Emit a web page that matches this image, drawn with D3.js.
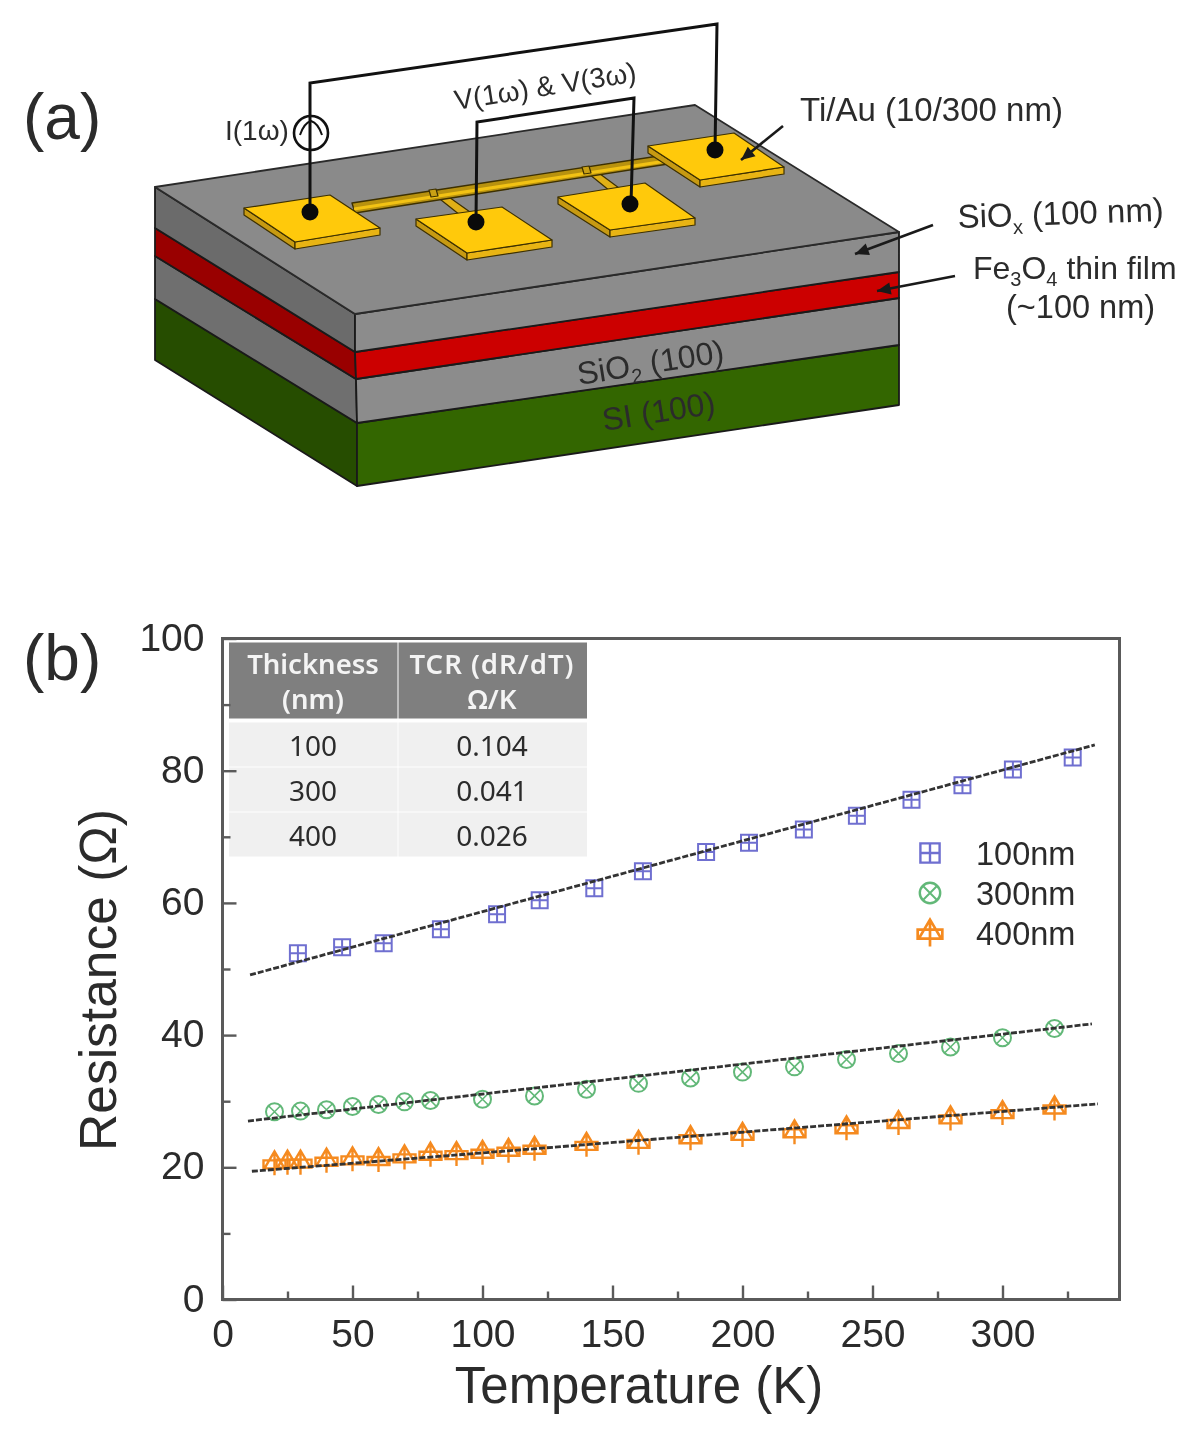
<!DOCTYPE html>
<html>
<head>
<meta charset="utf-8">
<script src="https://cdn.jsdelivr.net/npm/d3@7"></script>
<style>
  html, body { margin: 0; padding: 0; background: #fff; }
  svg { display: block; filter: blur(0.6px); font-family: "Liberation Sans", Arial, sans-serif; }
</style>
</head>
<body>
<div id="figure"></div>
<script>
// panel (b) values
const temps100 = [29, 46, 62, 84, 105.6, 122, 143, 161.7, 186, 202.5, 223.6, 244, 265, 284.6, 304, 327];
const res100 = [52.4, 53.3, 53.9, 56.0, 58.3, 60.4, 62.2, 64.8, 67.7, 69.1, 71.1, 73.2, 75.6, 77.8, 80.2, 82.0];

const temps300 = [20, 30, 40, 50, 60, 70, 80, 100, 120, 140, 160, 180, 200, 220, 240, 260, 280, 300, 320];
const res300 = [28.4, 28.5, 28.7, 29.2, 29.5, 29.9, 30.1, 30.3, 30.8, 31.8, 32.7, 33.5, 34.4, 35.2, 36.3, 37.2, 38.2, 39.6, 41.0];

const temps400 = [20, 25, 30, 40, 50, 60, 70, 80, 90, 100, 110, 120, 140, 160, 180, 200, 220, 240, 260, 280, 300, 320];
const res400 = [20.6, 20.7, 20.7, 21.0, 21.2, 21.1, 21.5, 21.9, 22.0, 22.2, 22.5, 22.8, 23.4, 23.7, 24.4, 24.9, 25.3, 25.9, 26.7, 27.4, 28.2, 28.9];

const fitTemps100 = [10.6, 335.5];
const fitRes100 = [49.1, 83.9];
const fitTemps300 = [9.8, 334.4];
const fitRes300 = [27.0, 41.7];
const fitTemps400 = [11.3, 336.7];
const fitRes400 = [19.4, 29.6];

const legendLabels = ['100nm', '300nm', '400nm'];
const tableHeader = [['Thickness', '(nm)'], ['TCR (dR/dT)', 'Ω/K']];
const tableThickness = ['100', '300', '400'];
const tableTcr = ['0.104', '0.041', '0.026'];

const xMajorTicks = [0, 50, 100, 150, 200, 250, 300];
const xMinorTicks = [25, 75, 125, 175, 225, 275, 325];
const yMajorTicks = [0, 20, 40, 60, 80, 100];
const yMinorTicks = [10, 30, 50, 70, 90];

const svgWidth = 1200;
const svgHeight = 1431;
const margin = { top: 638.5, right: 80.5, bottom: 131.5, left: 222.5 };
const width = svgWidth - margin.left - margin.right;
const height = svgHeight - margin.top - margin.bottom;

const textColor = '#2b2b2b';
const axisColor = '#5a5a5a';

const svg = d3.select('#figure').append('svg')
  .attr('width', svgWidth)
  .attr('height', svgHeight);

const polyLine = d3.line().curve(d3.curveLinearClosed);

function poly(points, fill, stroke = '#1a1a1a', strokeWidth = 1.8) {
  svg.append('path')
    .attr('d', polyLine(points))
    .attr('fill', fill)
    .attr('stroke', stroke)
    .attr('stroke-width', strokeWidth)
    .attr('stroke-linejoin', 'round');
}

function wire(points, strokeWidth = 3, color = '#111') {
  svg.append('path')
    .attr('d', d3.line()(points))
    .attr('fill', 'none')
    .attr('stroke', color)
    .attr('stroke-width', strokeWidth);
}

function label(x, y, text, size, opts = {}) {
  const t = svg.append('text')
    .attr('x', x)
    .attr('y', y)
    .attr('font-size', size)
    .attr('fill', opts.fill || textColor)
    .attr('text-anchor', opts.anchor || 'start')
    .text(text);
  if (opts.rotate) t.attr('transform', `rotate(${opts.rotate} ${x} ${y})`);
  return t;
}

function arrow(x1, y1, x2, y2) {
  const angle = Math.atan2(y2 - y1, x2 - x1);
  const head = 15;
  const spread = 0.42;
  wire([[x1, y1], [x2, y2]], 2.6, '#1a1a1a');
  svg.append('path')
    .attr('d', polyLine([
      [x2, y2],
      [x2 - head * Math.cos(angle - spread), y2 - head * Math.sin(angle - spread)],
      [x2 - head * Math.cos(angle + spread), y2 - head * Math.sin(angle + spread)],
    ]))
    .attr('fill', '#1a1a1a');
}

// --- panel (a), the device sketch ---
function drawStack() {
  poly([[155, 299], [357, 423], [357, 486], [155, 360]], '#264d00');
  poly([[357, 423], [899, 345], [899, 405], [357, 486]], '#336600');
  poly([[155, 256], [356, 379], [357, 423], [155, 299]], '#6f6f6f');
  poly([[356, 379], [899, 298], [899, 345], [357, 423]], '#8c8c8c');
  poly([[155, 228], [355, 352], [356, 379], [155, 256]], '#990000');
  poly([[355, 352], [899, 272], [899, 298], [356, 379]], '#cc0000');
  poly([[155, 187], [355, 314], [355, 352], [155, 228]], '#6b6b6b');
  poly([[355, 314], [899, 232], [899, 272], [355, 352]], '#8c8c8c');
  poly([[155, 187], [695, 105], [899, 232], [355, 314]], '#8a8a8a', '#2a2a2a', 1.8);
}

function drawPad(left, top, right, front) {
  const drop = 7;
  const lower = (p) => [p[0], p[1] + drop];
  poly([left, front, lower(front), lower(left)], '#c79a12', '#3d3000', 1.2);
  poly([front, right, lower(right), lower(front)], '#e8b414', '#3d3000', 1.2);
  poly([left, top, right, front], '#ffc90b', '#3d3000', 1.2);
}

function drawElectrodes() {
  poly([[431, 192], [439, 190], [470, 212], [460, 215]], '#e0b016', '#3d3000', 1.2);
  poly([[584, 170], [592, 168], [619, 188], [610, 191]], '#e0b016', '#3d3000', 1.2);
  poly([[352, 203], [665, 155], [668, 164], [355, 213]], '#b8920f', '#3d3000', 1.4);
  wire([[354, 209], [666, 161]], 3.2, '#f2c214');
  poly([[429, 190], [436, 189], [438, 196], [431, 197]], '#c9a015', '#3d3000', 1.2);
  poly([[582, 167], [589, 166], [591, 173], [584, 174]], '#c9a015', '#3d3000', 1.2);
  drawPad([244, 208], [330, 195], [380, 228], [295, 242]);
  drawPad([416, 219], [502, 207], [552, 240], [467, 253]);
  drawPad([558, 197], [645, 183], [695, 218], [610, 230]);
  drawPad([648, 146], [734, 133], [784, 167], [700, 180]);
}

function drawWiring() {
  wire([[310, 212], [310, 83], [717, 24], [715, 150]]);
  wire([[476, 222], [477, 122], [634, 98], [631, 204]]);

  svg.selectAll('circle.contact')
    .data([[310, 212], [476, 222], [630, 204], [715, 150]])
    .enter().append('circle')
    .attr('class', 'contact')
    .attr('cx', (d) => d[0])
    .attr('cy', (d) => d[1])
    .attr('r', 8.5)
    .attr('fill', '#0a0a0a');

  svg.append('circle')
    .attr('cx', 311)
    .attr('cy', 133)
    .attr('r', 17)
    .attr('fill', 'none')
    .attr('stroke', '#111')
    .attr('stroke-width', 2.6);
  svg.append('path')
    .attr('d', 'M300,135Q304,123 311,121Q318,123 322,135')
    .attr('fill', 'none')
    .attr('stroke', '#111')
    .attr('stroke-width', 2);
}

function drawSketchLabels() {
  label(23, 139, '(a)', 64);
  label(225, 140, 'I(1ω)', 28);
  label(456, 110, 'V(1ω) & V(3ω)', 28, { rotate: -9 });
  label(800, 121, 'Ti/Au (10/300 nm)', 33);

  const siox = label(958, 228, 'SiO', 33, { rotate: -2 });
  siox.append('tspan').attr('dy', 8).attr('font-size', 20).text('x');
  siox.append('tspan').attr('dy', -8).text(' (100 nm)');

  const fe = label(973, 279, 'Fe', 32);
  fe.append('tspan').attr('dy', 7).attr('font-size', 20).text('3');
  fe.append('tspan').attr('dy', -7).text('O');
  fe.append('tspan').attr('dy', 7).attr('font-size', 20).text('4');
  fe.append('tspan').attr('dy', -7).text(' thin film');
  label(1006, 318, '(~100 nm)', 32.5);

  const sio2 = label(579, 385, 'SiO', 32, { rotate: -9 });
  sio2.append('tspan').attr('dy', 7).attr('font-size', 20).text('2');
  sio2.append('tspan').attr('dy', -7).text(' (100)');
  label(604, 431, 'SI (100)', 32, { rotate: -9 });

  arrow(783, 126, 741, 160);
  arrow(933, 225, 855, 254);
  arrow(955, 276, 877, 291);
}

drawStack();
drawElectrodes();
drawWiring();
drawSketchLabels();

// --- panel (b), the chart ---
label(23, 680, '(b)', 64);

const chart = svg.append('g')
  .attr('transform', `translate(${margin.left}, ${margin.top})`);

const xScale = d3.scaleLinear().domain([0, 345]).range([0, width]);
const yScale = d3.scaleLinear().domain([0, 100]).range([height, 0]);

// inset table sits under the frame
const colX = [6.5, 175, 364.5];
const rowTop = [84, 129, 174];
const rowH = 44;
const tableFont = '"Noto Sans", sans-serif';

chart.selectAll('rect.head')
  .data(tableHeader)
  .enter().append('rect')
  .attr('class', 'head')
  .attr('x', (d, i) => colX[i] + (i ? 1 : 0))
  .attr('y', 4)
  .attr('width', (d, i) => colX[i + 1] - colX[i] - (i ? 1 : 0))
  .attr('height', 76)
  .attr('fill', '#7f7f7f');

tableThickness.forEach((d, r) => {
  [d, tableTcr[r]].forEach((v, c) => {
    chart.append('rect')
      .attr('x', colX[c] + (c ? 1 : 0))
      .attr('y', rowTop[r])
      .attr('width', colX[c + 1] - colX[c] - (c ? 1 : 0))
      .attr('height', rowH)
      .attr('fill', '#f0f0f0');
    chart.append('text')
      .attr('x', c ? 269.5 : 90.5)
      .attr('y', rowTop[r] + 33)
      .attr('text-anchor', 'middle')
      .attr('font-family', tableFont)
      .attr('font-size', 28)
      .attr('fill', '#2b2b2b')
      .text(v);
  });
});

tableHeader.forEach((lines, c) => {
  lines.forEach((line, l) => {
    chart.append('text')
      .attr('x', c ? 269.5 : 90.5)
      .attr('y', 35 + l * 35)
      .attr('text-anchor', 'middle')
      .attr('font-family', tableFont)
      .attr('font-size', 27.5)
      .attr('letter-spacing', c && !l ? 1 : 0)
      .attr('font-weight', 600)
      .attr('fill', '#f4f4f4')
      .text(line);
  });
});

// axes, major and minor ticks point inward
function styleAxis(g) {
  g.selectAll('.domain').remove();
  g.selectAll('line').attr('stroke', axisColor).attr('stroke-width', 2.4);
}

chart.append('g')
  .attr('transform', `translate(0, ${height})`)
  .call(d3.axisBottom(xScale).tickValues(xMinorTicks).tickSize(-8).tickFormat(''))
  .call(styleAxis);

chart.append('g')
  .attr('class', 'x axis')
  .attr('transform', `translate(0, ${height})`)
  .call(d3.axisBottom(xScale).tickValues(xMajorTicks).tickSize(-14).tickPadding(0).tickFormat(d3.format('d')))
  .call(styleAxis)
  .selectAll('text')
  .attr('y', 47)
  .attr('dy', 0)
  .attr('font-family', '"Liberation Sans", Arial, sans-serif')
  .attr('font-size', 39)
  .attr('fill', textColor);

chart.append('g')
  .call(d3.axisLeft(yScale).tickValues(yMinorTicks).tickSize(-8).tickFormat(''))
  .call(styleAxis);

chart.append('g')
  .attr('class', 'y axis')
  .call(d3.axisLeft(yScale).tickValues(yMajorTicks).tickSize(-14).tickPadding(0).tickFormat(d3.format('d')))
  .call(styleAxis)
  .selectAll('text')
  .attr('x', -18)
  .attr('y', -2)
  .attr('dy', '0.35em')
  .attr('font-family', '"Liberation Sans", Arial, sans-serif')
  .attr('font-size', 39)
  .attr('fill', textColor);

chart.append('rect')
  .attr('width', width)
  .attr('height', height)
  .attr('fill', 'none')
  .attr('stroke', axisColor)
  .attr('stroke-width', 3);

// marker shapes, all centered on 0,0
function squareMarker(g) {
  g.append('path')
    .attr('d', 'M-8,-8H8V8H-8ZM0,-8V8M-8,0H8')
    .attr('fill', 'none')
    .attr('stroke', '#6f6fd0')
    .attr('stroke-width', 2);
}

function circleMarker(g) {
  g.append('circle')
    .attr('r', 8.5)
    .attr('fill', 'none')
    .attr('stroke', '#62b878')
    .attr('stroke-width', 2);
  g.append('path')
    .attr('d', 'M-6,-6L6,6M-6,6L6,-6')
    .attr('fill', 'none')
    .attr('stroke', '#62b878')
    .attr('stroke-width', 1.6);
}

function triangleMarker(g) {
  g.append('path')
    .attr('d', 'M0,-12L10,5H-10ZM-11,-3H11V5H-11ZM0,-12V12')
    .attr('fill', 'none')
    .attr('stroke', '#f58a1f')
    .attr('stroke-width', 2.4);
}

function addSeries(ts, rs, marker) {
  chart.selectAll(null)
    .data(d3.zip(ts, rs))
    .enter().append('g')
    .attr('transform', (d) => `translate(${xScale(d[0])}, ${yScale(d[1])})`)
    .each(function () { marker(d3.select(this)); });
}

addSeries(temps100, res100, squareMarker);
addSeries(temps300, res300, circleMarker);
addSeries(temps400, res400, triangleMarker);

// fit lines go over the markers
const fitLine = d3.line()
  .x((d) => xScale(d[0]))
  .y((d) => yScale(d[1]));

[[fitTemps100, fitRes100], [fitTemps300, fitRes300], [fitTemps400, fitRes400]].forEach(([ts, rs]) => {
  chart.append('path')
    .datum(d3.zip(ts, rs))
    .attr('d', fitLine)
    .attr('fill', 'none')
    .attr('stroke', '#333')
    .attr('stroke-width', 2.8)
    .attr('stroke-dasharray', '6 2');
});

// legend
const legendMarkers = [squareMarker, circleMarker, triangleMarker];
const legendScale = [1.2, 1.2, 1.12];
legendLabels.forEach((d, i) => {
  const row = svg.append('g').attr('transform', `translate(930, ${853 + i * 40})`);
  legendMarkers[i](row.append('g').attr('transform', `scale(${legendScale[i]})`));
  row.append('text')
    .attr('x', 46)
    .attr('y', 12)
    .attr('font-size', 32.5)
    .attr('fill', textColor)
    .text(d);
});

// axis titles
label(639, 1403, 'Temperature (K)', 51, { anchor: 'middle' });
label(116, 980, 'Resistance (Ω)', 51.5, { anchor: 'middle', rotate: -90 });
</script>
</body>
</html>
